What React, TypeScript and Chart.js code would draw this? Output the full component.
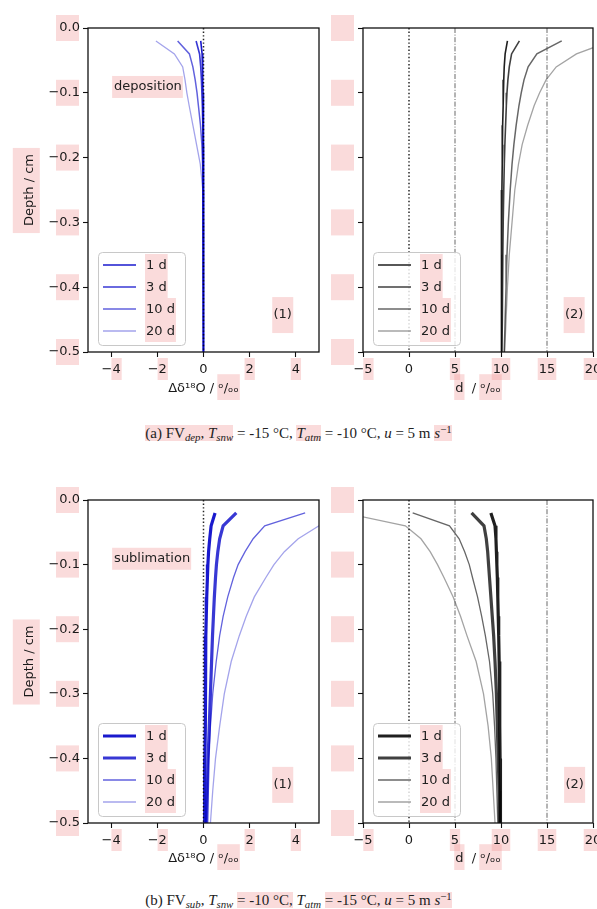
import React, { useEffect, useRef } from 'react';
import { Chart, registerables } from 'chart.js';

Chart.register(...registerables);

// ---------------- data ----------------
const DEPTHS = [-0.02, -0.04, -0.06, -0.08, -0.1, -0.12, -0.15, -0.18, -0.21, -0.25, -0.3, -0.35, -0.4, -0.45, -0.5];
const DAY_LABELS = ['1 d', '3 d', '10 d', '20 d'];

// (a) deposition – Δδ18O
const DEP_ISO_1D = [-0.12, -0.06, -0.04, -0.03, -0.02, -0.01, -0.005, 0, 0, 0, 0, 0, 0, 0, 0];
const DEP_ISO_3D = [-0.32, -0.17, -0.12, -0.09, -0.07, -0.05, -0.03, -0.02, -0.01, -0.005, 0, 0, 0, 0, 0];
const DEP_ISO_10D = [-1.12, -0.61, -0.46, -0.36, -0.28, -0.22, -0.13, -0.07, -0.04, -0.02, -0.01, 0, 0, 0, 0];
const DEP_ISO_20D = [-2.06, -1.26, -0.9, -0.8, -0.72, -0.62, -0.46, -0.3, -0.14, -0.03, -0.01, 0, 0, 0, 0];

// (a) deposition – d-excess
const DEP_DXS_1D = [10.7, 10.45, 10.35, 10.3, 10.25, 10.22, 10.18, 10.15, 10.12, 10.1, 10.08, 10.06, 10.05, 10.03, 10.02];
const DEP_DXS_3D = [12.0, 11.15, 10.9, 10.75, 10.65, 10.58, 10.5, 10.42, 10.36, 10.3, 10.24, 10.2, 10.16, 10.13, 10.1];
const DEP_DXS_10D = [16.6, 13.9, 12.95, 12.5, 12.2, 11.95, 11.65, 11.4, 11.2, 11.0, 10.8, 10.65, 10.55, 10.45, 10.35];
const DEP_DXS_20D = [22.0, 18.2, 16.0, 14.9, 14.2, 13.6, 12.9, 12.3, 11.9, 11.5, 11.2, 10.9, 10.7, 10.55, 10.4];

// (b) sublimation – Δδ18O
const SUB_ISO_1D = [0.5, 0.33, 0.27, 0.22, 0.19, 0.17, 0.14, 0.12, 0.1, 0.09, 0.08, 0.07, 0.06, 0.05, 0.05];
const SUB_ISO_3D = [1.42, 0.85, 0.7, 0.62, 0.56, 0.52, 0.47, 0.43, 0.39, 0.35, 0.3, 0.25, 0.2, 0.17, 0.14];
const SUB_ISO_10D = [4.4, 2.65, 2.15, 1.8, 1.5, 1.3, 1.05, 0.85, 0.7, 0.55, 0.4, 0.3, 0.22, 0.17, 0.12];
const SUB_ISO_20D = [6.0, 5.0, 4.1, 3.5, 3.05, 2.7, 2.2, 1.85, 1.55, 1.2, 0.9, 0.7, 0.52, 0.4, 0.3];

// (b) sublimation – d-excess
const SUB_DXS_1D = [8.9, 9.35, 9.45, 9.5, 9.55, 9.6, 9.65, 9.7, 9.75, 9.8, 9.85, 9.88, 9.9, 9.93, 9.95];
const SUB_DXS_3D = [6.8, 8.15, 8.4, 8.55, 8.65, 8.75, 8.9, 9.05, 9.2, 9.35, 9.5, 9.6, 9.7, 9.8, 9.85];
const SUB_DXS_10D = [0.4, 4.4, 5.45, 6.05, 6.55, 6.9, 7.45, 7.9, 8.3, 8.75, 9.1, 9.3, 9.45, 9.55, 9.65];
const SUB_DXS_20D = [-7.0, -0.4, 1.3, 2.3, 3.1, 3.8, 4.8, 5.6, 6.3, 7.3, 8.1, 8.6, 8.95, 9.15, 9.35];

const Y_TICKS = [-0.5, -0.4, -0.3, -0.2, -0.1, 0];
const ISO_TICKS = [-4, -2, 0, 2, 4];
const DXS_TICKS = [-5, 0, 5, 10, 15, 20];
const Y_MIN = -0.5;
const Y_MAX = 0;
const ISO_RANGE = [-5, 5];
const DXS_RANGE = [-5, 20];
const ISO_REF = [0];
const DXS_REF_DOTTED = [0];
const DXS_REF_DASHDOT = [5, 15];

// ---------------- styles ----------------
const FONT_FAMILY = '"DejaVu Sans", sans-serif';
const PINK = 'rgba(243, 160, 160, 0.38)';
const BLUES = ['rgba(0,0,200,0.9)', 'rgba(0,0,200,0.78)', 'rgba(0,0,200,0.62)', 'rgba(0,0,200,0.36)'];
const GREYS = ['rgba(0,0,0,0.88)', 'rgba(0,0,0,0.75)', 'rgba(0,0,0,0.6)', 'rgba(0,0,0,0.36)'];
const WIDTHS_TOP = [1.6, 1.6, 1.5, 1.3];
const WIDTHS_BOTTOM = [3.2, 3.2, 1.3, 1.3];

type Ref = { x: number; color: string; width: number; dash: number[] };
type PanelCfg = {
  left: number; top: number; width: number; height: number;
  area: { l: number; t: number; r: number; b: number };
  xRange: number[]; xTicks: number[];
  xTitle: string; xTitleBoxes: [number, number][];
  yTitle?: string;
  showYLabels: boolean;
  series: number[][]; colors: string[]; widths: number[];
  refs: Ref[];
  note?: { text: string; x: number; y: number };
  tag: { text: string; x: number; y: number };
};

const dottedRefs = (xs: number[]): Ref[] => xs.map((x) => ({ x, color: 'rgba(0,0,0,0.85)', width: 1.5, dash: [1.4, 2.2] }));
const dashDotRefs = (xs: number[]): Ref[] => xs.map((x) => ({ x, color: 'rgba(90,90,90,0.9)', width: 1, dash: [5, 1.6, 1, 1.6] }));

const ISO_TITLE = 'Δδ¹⁸O / ᵒ/ₒₒ';
const DXS_TITLE = 'd  / ᵒ/ₒₒ';
const isoTitleBoxes: [number, number][] = [[ISO_TITLE.indexOf('ᵒ'), ISO_TITLE.length]];
const dxsTitleBoxes: [number, number][] = [[0, 1], [DXS_TITLE.indexOf('ᵒ'), DXS_TITLE.length]];

const PANELS: PanelCfg[] = [
  {
    left: 0, top: 0, width: 325, height: 400, area: { l: 88, t: 28, r: 319, b: 352 },
    xRange: ISO_RANGE, xTicks: ISO_TICKS, xTitle: ISO_TITLE, xTitleBoxes: isoTitleBoxes,
    yTitle: 'Depth / cm', showYLabels: true,
    series: [DEP_ISO_1D, DEP_ISO_3D, DEP_ISO_10D, DEP_ISO_20D], colors: BLUES, widths: WIDTHS_TOP,
    refs: dottedRefs(ISO_REF),
    note: { text: 'deposition', x: -3.87, y: -0.091 },
    tag: { text: '(1)', x: 3.43, y: -0.443 },
  },
  {
    left: 325, top: 0, width: 295, height: 400, area: { l: 38, t: 28, r: 268, b: 352 },
    xRange: DXS_RANGE, xTicks: DXS_TICKS, xTitle: DXS_TITLE, xTitleBoxes: dxsTitleBoxes,
    showYLabels: false,
    series: [DEP_DXS_1D, DEP_DXS_3D, DEP_DXS_10D, DEP_DXS_20D], colors: GREYS, widths: WIDTHS_TOP,
    refs: [...dottedRefs(DXS_REF_DOTTED), ...dashDotRefs(DXS_REF_DASHDOT)],
    tag: { text: '(2)', x: 17.95, y: -0.443 },
  },
  {
    left: 0, top: 470, width: 325, height: 400, area: { l: 88, t: 30, r: 319, b: 353 },
    xRange: ISO_RANGE, xTicks: ISO_TICKS, xTitle: ISO_TITLE, xTitleBoxes: isoTitleBoxes,
    yTitle: 'Depth / cm', showYLabels: true,
    series: [SUB_ISO_1D, SUB_ISO_3D, SUB_ISO_10D, SUB_ISO_20D], colors: BLUES, widths: WIDTHS_BOTTOM,
    refs: dottedRefs(ISO_REF),
    note: { text: 'sublimation', x: -3.87, y: -0.091 },
    tag: { text: '(1)', x: 3.43, y: -0.441 },
  },
  {
    left: 325, top: 470, width: 295, height: 400, area: { l: 38, t: 30, r: 268, b: 353 },
    xRange: DXS_RANGE, xTicks: DXS_TICKS, xTitle: DXS_TITLE, xTitleBoxes: dxsTitleBoxes,
    showYLabels: false,
    series: [SUB_DXS_1D, SUB_DXS_3D, SUB_DXS_10D, SUB_DXS_20D], colors: GREYS, widths: WIDTHS_BOTTOM,
    refs: [...dottedRefs(DXS_REF_DOTTED), ...dashDotRefs(DXS_REF_DASHDOT)],
    tag: { text: '(2)', x: 18.0, y: -0.441 },
  },
];

const fmtX = (v: number) => (v < 0 ? '\u2212' + String(Math.abs(v)) : String(v));
const fmtY = (v: number) => (Math.abs(v) < 1e-9 ? '0.0' : (v < 0 ? '\u2212' : '') + Math.abs(v).toFixed(1));

const FONT13 = `13px ${FONT_FAMILY}`;

function decorPlugin(cfg: PanelCfg) {
  const legendGeom = (ca: any) => ({ x: ca.left + 10, y: ca.bottom - 7 - 93, w: 87, h: 93 });
  return {
    id: 'decor',
    beforeDraw(chart: any) {
      const { ctx, chartArea: ca, scales } = chart;
      const xs = scales.x;
      const ys = scales.y;
      ctx.save();
      ctx.fillStyle = PINK;
      ctx.font = FONT13;
      // y tick label boxes
      Y_TICKS.forEach((v) => {
        const py = ys.getPixelForValue(v);
        ctx.fillRect(ca.left - 32, py - 13, 23, 26);
      });
      // x tick label boxes (digits only, skipping zero)
      cfg.xTicks.forEach((v) => {
        if (v === 0) return;
        const px = xs.getPixelForValue(v);
        const dw = ctx.measureText(String(Math.abs(v))).width;
        const lw = ctx.measureText(fmtX(v)).width;
        const right = px + lw / 2;
        ctx.fillRect(right - dw - 1, ca.bottom + 6, dw + 2, 22);
      });
      // x title boxes
      const tw = ctx.measureText(cfg.xTitle).width;
      const tx0 = (ca.left + ca.right) / 2 - tw / 2;
      const ty = chart.height - 4 - 7.8;
      cfg.xTitleBoxes.forEach(([s, e]) => {
        const a = ctx.measureText(cfg.xTitle.slice(0, s)).width;
        const b = ctx.measureText(cfg.xTitle.slice(0, e)).width;
        ctx.fillRect(tx0 + a - 1, ty - 14, b - a + 2, 27);
      });
      // y title box
      if (cfg.yTitle) {
        const w = ctx.measureText(cfg.yTitle).width;
        const cx = 29.8;
        const cy = (ca.top + ca.bottom) / 2;
        ctx.fillRect(cx - 17, cy - w / 2 - 6, 27, w + 13);
      }
      // note & tag boxes
      if (cfg.note) {
        const w = ctx.measureText(cfg.note.text).width;
        const px = xs.getPixelForValue(cfg.note.x);
        const py = ys.getPixelForValue(cfg.note.y);
        ctx.fillRect(px - 2, py - 11, w + 3, 22);
      }
      {
        const px = xs.getPixelForValue(cfg.tag.x);
        const py = ys.getPixelForValue(cfg.tag.y);
        ctx.fillRect(px - 10.5, py - 18, 21, 36);
      }
      ctx.restore();
    },
    afterDatasetsDraw(chart: any) {
      const { ctx, chartArea: ca, scales } = chart;
      const xs = scales.x;
      const ys = scales.y;
      ctx.save();
      // frame
      ctx.strokeStyle = '#111';
      ctx.lineWidth = 1.3;
      ctx.strokeRect(ca.left, ca.top, ca.right - ca.left, ca.bottom - ca.top);
      // legend
      const lg = legendGeom(ca);
      ctx.beginPath();
      (ctx as any).roundRect(lg.x + 0.5, lg.y + 0.5, lg.w, lg.h, 4);
      ctx.fillStyle = 'rgba(255,255,255,0.8)';
      ctx.fill();
      ctx.strokeStyle = 'rgba(200,200,200,1)';
      ctx.lineWidth = 1;
      ctx.stroke();
      ctx.font = FONT13;
      ctx.textBaseline = 'middle';
      ctx.textAlign = 'left';
      const metas = chart.data.datasets
        .map((d: any, i: number) => ({ d, i }))
        .filter((o: any) => !o.d.isRef);
      metas.forEach((o: any, r: number) => {
        const ry = lg.y + 13 + 22 * r;
        const w = ctx.measureText(o.d.label).width;
        ctx.fillStyle = PINK;
        ctx.fillRect(lg.x + 47, ry - 11, w + 2, 22);
        ctx.beginPath();
        ctx.moveTo(lg.x + 5, ry);
        ctx.lineTo(lg.x + 38, ry);
        ctx.strokeStyle = o.d.borderColor;
        ctx.lineWidth = o.d.borderWidth;
        ctx.setLineDash([]);
        ctx.stroke();
        ctx.fillStyle = '#222';
        ctx.fillText(o.d.label, lg.x + 48, ry + 0.5);
      });
      // note
      ctx.fillStyle = '#222';
      if (cfg.note) {
        ctx.textAlign = 'left';
        ctx.fillText(cfg.note.text, xs.getPixelForValue(cfg.note.x), ys.getPixelForValue(cfg.note.y));
      }
      ctx.textAlign = 'center';
      ctx.fillText(cfg.tag.text, xs.getPixelForValue(cfg.tag.x), ys.getPixelForValue(cfg.tag.y));
      ctx.restore();
    },
  };
}

function buildConfig(cfg: PanelCfg): any {
  const refSets = cfg.refs.map((r) => ({
    label: '_ref',
    isRef: true,
    data: [{ x: r.x, y: Y_MAX }, { x: r.x, y: Y_MIN }],
    borderColor: r.color,
    borderWidth: r.width,
    borderDash: r.dash,
    pointRadius: 0,
    clip: 0,
  }));
  const seriesSets = cfg.series.map((vals, i) => ({
    label: DAY_LABELS[i],
    data: DEPTHS.map((d, j) => ({ x: vals[j], y: d })),
    borderColor: cfg.colors[i],
    borderWidth: cfg.widths[i],
    pointRadius: 0,
    tension: 0,
    fill: false,
    clip: 0,
  }));
  const tickFont = { family: FONT_FAMILY, size: 13 };
  return {
    type: 'line',
    data: { datasets: [...refSets, ...seriesSets] },
    options: {
      responsive: false,
      animation: false,
      events: [],
      layout: { padding: { top: cfg.area.t, right: cfg.width - cfg.area.r, left: 0, bottom: 0 } },
      plugins: { legend: { display: false }, tooltip: { enabled: false } },
      scales: {
        x: {
          type: 'linear',
          min: cfg.xRange[0],
          max: cfg.xRange[1],
          afterBuildTicks: (s: any) => { s.ticks = cfg.xTicks.map((v) => ({ value: v })); },
          afterFit: (s: any) => { s.height = cfg.height - cfg.area.b; },
          border: { display: false },
          grid: { drawOnChartArea: false, drawTicks: true, tickLength: 5, color: '#111', tickWidth: 1.1 },
          ticks: { color: '#1a1a1a', font: tickFont, padding: 5, maxRotation: 0, autoSkip: false, callback: (v: any) => fmtX(Number(v)) },
          title: { display: true, text: cfg.xTitle, color: '#1a1a1a', font: tickFont, padding: { top: 0, bottom: 4 } },
        },
        y: {
          type: 'linear',
          min: Y_MIN,
          max: Y_MAX,
          afterBuildTicks: (s: any) => { s.ticks = Y_TICKS.map((v) => ({ value: v })); },
          afterFit: (s: any) => { s.width = cfg.area.l; },
          border: { display: false },
          grid: { drawOnChartArea: false, drawTicks: true, tickLength: 5, color: '#111', tickWidth: 1.1 },
          ticks: {
            color: cfg.showYLabels ? '#1a1a1a' : 'rgba(0,0,0,0)',
            font: tickFont, padding: 3, autoSkip: false,
            callback: (v: any) => fmtY(Number(v)),
          },
          title: {
            display: !!cfg.yTitle, text: cfg.yTitle || '', color: '#1a1a1a', font: tickFont,
            padding: { top: 22, bottom: 0 },
          },
        },
      },
    },
    plugins: [decorPlugin(cfg)],
  };
}

function Panel({ cfg }: { cfg: PanelCfg }) {
  const ref = useRef<HTMLCanvasElement>(null);
  useEffect(() => {
    const chart = new Chart(ref.current as HTMLCanvasElement, buildConfig(cfg));
    return () => chart.destroy();
  }, [cfg]);
  return (
    <canvas
      ref={ref}
      width={cfg.width}
      height={cfg.height}
      style={{ position: 'absolute', left: cfg.left, top: cfg.top, width: cfg.width, height: cfg.height }}
    />
  );
}

const pinkSpan: React.CSSProperties = { background: 'rgba(243,160,160,0.38)' };
const subStyle: React.CSSProperties = { fontSize: '0.72em', verticalAlign: '-0.3em', lineHeight: 0, fontStyle: 'italic' };
const supStyle: React.CSSProperties = { fontSize: '0.72em', verticalAlign: '0.45em', lineHeight: 0 };
const captionStyle = (top: number): React.CSSProperties => ({
  position: 'absolute', left: 0, top, width: 597, textAlign: 'center',
  fontFamily: '"Liberation Serif", "Times New Roman", serif', fontSize: 15, lineHeight: '20px', color: '#222',
});

export default function App() {
  return (
    <div style={{ position: 'absolute', left: 0, top: 0, width: 597, height: 909, overflow: 'hidden', background: '#fff' }}>
      {PANELS.map((p, i) => (
        <Panel key={i} cfg={p} />
      ))}
      <div style={captionStyle(423)}>
        <span style={pinkSpan}>(a) FV<span style={subStyle}>dep</span>, <i>T</i><span style={subStyle}>snw</span></span> = -15 °C,{' '}
        <span style={pinkSpan}><i>T</i><span style={subStyle}>atm</span></span> = -10 °C, <i>u</i> = 5 m{' '}
        <span style={pinkSpan}><i>s</i><span style={supStyle}>−1</span></span>
      </div>
      <div style={captionStyle(890)}>
        (b) FV<span style={subStyle}>sub</span>, <i>T</i><span style={subStyle}>snw</span>{' '}
        <span style={pinkSpan}>= -10 °C,</span> <i>T</i><span style={subStyle}>atm</span>{' '}
        <span style={pinkSpan}>= -15 °C, <i>u</i> = 5 m <i>s</i><span style={supStyle}>−1</span></span>
      </div>
    </div>
  );
}
